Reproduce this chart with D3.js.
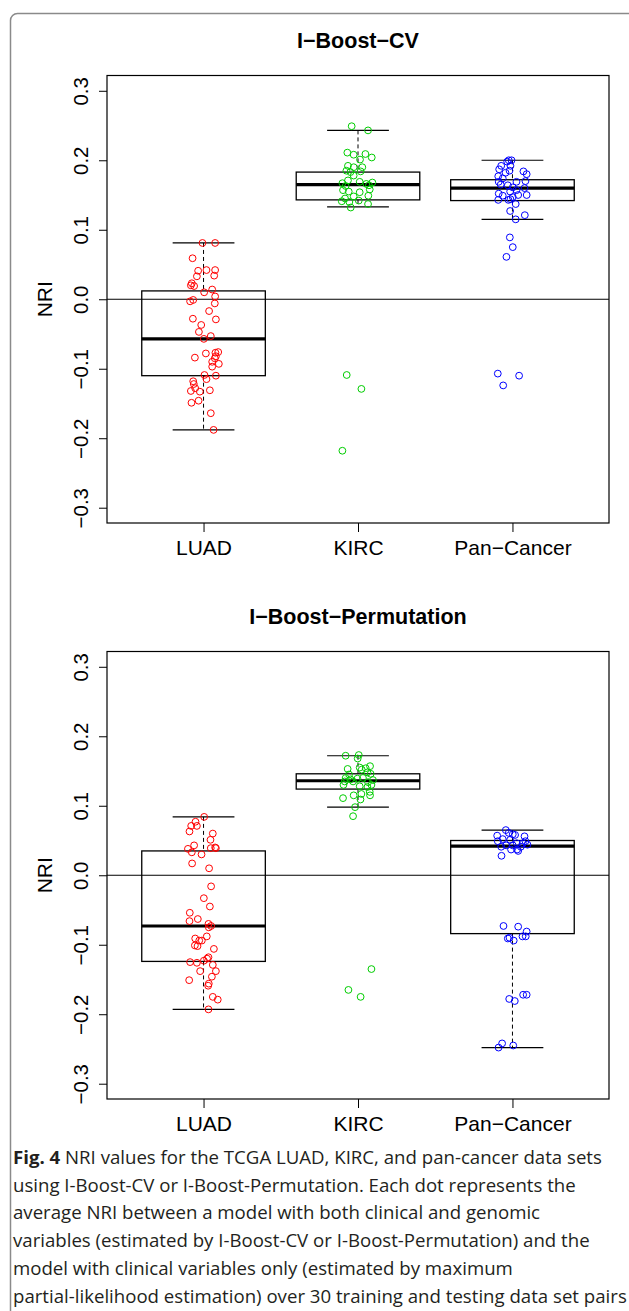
<!DOCTYPE html>
<html lang="en">
  <head>
    <meta charset="utf-8" />
    <title>NRI boxplots</title>
    <style>
      body { margin: 0; background: #fff; }
      .axis text { font-family: "Liberation Sans", Arial, sans-serif; font-size: 20.5px; fill: #000; }
      .axis line, .axis path { stroke: #000; }
      .caption { font-family: "Open Sans", sans-serif; fill: #231f20; }
    </style>
  </head>
  <body>
    <div id="vis"></div>
    <script src="https://d3js.org/d3.v7.min.js"></script>
    <script>
      const groups = ["LUAD", "KIRC", "Pan\u2212Cancer"];
      const colors = ["#ff0000", "#00cd00", "#0000ff"];
      const yTicks = [-0.3, -0.2, -0.1, 0, 0.1, 0.2, 0.3];
      const titles = ["I\u2212Boost\u2212CV", "I\u2212Boost\u2212Permutation"];

      // [jitter, NRI]
      const cvLuad = [[-0.007,0.081],[0.075,0.081],[-0.071,0.059],[-0.035,0.041],[0.019,0.042],[0.075,0.042],[0.069,0.034],[-0.043,0.033],[-0.076,0.023],[-0.082,0.020],[-0.061,0.019],[0.056,0.014],[0.004,0.010],[0.075,0.004],[-0.067,-0.001],[-0.087,-0.003],[0.073,-0.006],[0.036,-0.017],[-0.069,-0.028],[0.080,-0.029],[-0.015,-0.037],[-0.030,-0.047],[0.047,-0.053],[0.002,-0.057],[0.015,-0.078],[0.095,-0.076],[0.077,-0.077],[0.080,-0.082],[-0.056,-0.084],[0.073,-0.085],[0.056,-0.090],[0.099,-0.093],[0.056,-0.097],[0.006,-0.109],[0.080,-0.110],[0.019,-0.115],[-0.067,-0.118],[-0.063,-0.122],[-0.054,-0.128],[-0.082,-0.132],[-0.024,-0.133],[0.041,-0.131],[-0.032,-0.146],[-0.078,-0.149],[0.047,-0.164],[0.065,-0.188]];
      const cvKirc = [[-0.041,0.249],[0.065,0.243],[-0.069,0.211],[-0.028,0.208],[0.048,0.209],[0.089,0.204],[0.013,0.201],[-0.065,0.192],[-0.028,0.190],[0.028,0.190],[-0.075,0.185],[-0.049,0.183],[0.017,0.184],[-0.028,0.178],[-0.065,0.171],[0.011,0.169],[-0.101,0.167],[0.054,0.166],[0.093,0.168],[0.071,0.164],[-0.080,0.163],[-0.097,0.157],[0.076,0.158],[-0.060,0.155],[0.011,0.154],[0.067,0.149],[-0.028,0.148],[-0.084,0.145],[-0.105,0.141],[0.005,0.142],[-0.056,0.140],[0.065,0.137],[-0.047,0.132],[-0.073,-0.109],[0.022,-0.129],[-0.101,-0.218]];
      const cvPan = [[-0.024,0.200],[-0.006,0.200],[-0.034,0.198],[-0.073,0.192],[-0.013,0.192],[-0.086,0.187],[0.071,0.184],[0.092,0.180],[-0.045,0.182],[-0.019,0.185],[-0.092,0.177],[-0.063,0.174],[0.084,0.170],[-0.089,0.169],[0.026,0.169],[-0.076,0.165],[-0.030,0.164],[0.002,0.161],[0.078,0.160],[0.026,0.157],[-0.015,0.155],[-0.089,0.152],[0.092,0.150],[0.037,0.150],[-0.063,0.149],[0.002,0.147],[-0.092,0.143],[-0.026,0.143],[-0.013,0.144],[0.021,0.137],[-0.015,0.127],[0.080,0.121],[0.021,0.115],[-0.017,0.089],[0.002,0.075],[-0.039,0.061],[-0.095,-0.107],[0.043,-0.110],[-0.060,-0.124]];
      const permLuad = [[0.004,0.084],[-0.052,0.077],[-0.080,0.071],[-0.043,0.071],[-0.091,0.063],[0.060,0.060],[0.045,0.051],[-0.061,0.043],[-0.101,0.038],[0.047,0.039],[0.075,0.040],[0.080,0.039],[-0.076,0.033],[-0.013,0.030],[-0.074,0.017],[0.036,0.010],[0.049,-0.016],[0.002,-0.033],[0.041,-0.045],[-0.089,-0.054],[-0.091,-0.066],[-0.037,-0.063],[0.032,-0.070],[0.049,-0.073],[0.034,-0.075],[0.021,-0.088],[-0.054,-0.091],[-0.028,-0.094],[-0.011,-0.094],[-0.056,-0.101],[-0.039,-0.102],[0.067,-0.106],[0.032,-0.118],[0.023,-0.120],[0.002,-0.123],[-0.087,-0.125],[-0.043,-0.126],[0.060,-0.129],[-0.022,-0.138],[0.080,-0.138],[0.054,-0.146],[-0.093,-0.151],[0.034,-0.156],[0.030,-0.159],[0.060,-0.175],[0.092,-0.179],[0.032,-0.193]];
      const permKirc = [[-0.080,0.172],[0.005,0.173],[-0.002,0.168],[-0.067,0.153],[0.011,0.155],[0.050,0.154],[0.078,0.157],[0.024,0.152],[0.061,0.148],[0.082,0.146],[-0.058,0.145],[-0.080,0.140],[-0.049,0.138],[-0.004,0.139],[0.032,0.140],[0.097,0.137],[-0.086,0.135],[-0.032,0.135],[0.065,0.134],[-0.094,0.130],[0.087,0.130],[0.011,0.128],[0.061,0.127],[0.076,0.120],[-0.028,0.115],[0.022,0.117],[0.016,0.109],[-0.097,0.111],[0.078,0.115],[-0.019,0.098],[-0.032,0.085],[0.087,-0.135],[-0.062,-0.165],[0.017,-0.175]];
      const permPan = [[-0.043,0.065],[-0.024,0.061],[0.002,0.059],[0.017,0.058],[-0.099,0.057],[0.078,0.056],[-0.063,0.052],[-0.015,0.051],[-0.095,0.049],[0.084,0.049],[0.028,0.046],[0.067,0.046],[0.097,0.044],[-0.041,0.043],[0.002,0.043],[0.054,0.041],[-0.073,0.041],[0.030,0.037],[-0.009,0.037],[-0.071,0.028],[0.037,0.035],[-0.058,-0.073],[0.037,-0.074],[0.092,-0.081],[0.065,-0.088],[0.086,-0.088],[-0.030,-0.091],[-0.019,-0.090],[0.008,-0.094],[-0.021,-0.178],[0.015,-0.181],[0.069,-0.172],[0.092,-0.172],[-0.067,-0.242],[0.005,-0.245],[-0.090,-0.248]];

      // [lower whisker, Q1, median, Q3, upper whisker]
      const cvBox = [[-0.188,-0.110,-0.057,0.012,0.081],[0.133,0.143,0.165,0.183,0.243],[0.115,0.142,0.160,0.172,0.200]];
      const permBox = [[-0.193,-0.124,-0.073,0.035,0.084],[0.098,0.124,0.136,0.146,0.172],[-0.248,-0.084,0.042,0.050,0.065]];

      const captionLines = [
        ["Fig. 4", " NRI values for the TCGA LUAD, KIRC, and pan-cancer data sets"],
        ["", "using I-Boost-CV or I-Boost-Permutation. Each dot represents the"],
        ["", "average NRI between a model with both clinical and genomic"],
        ["", "variables (estimated by I-Boost-CV or I-Boost-Permutation) and the"],
        ["", "model with clinical variables only (estimated by maximum"],
        ["", "partial-likelihood estimation) over 30 training and testing data set pairs"]
      ];

      const W = 629, H = 1311;
      const svg = d3.select("#vis").append("svg").attr("width", W).attr("height", H);

      svg.append("rect")
        .attr("x", 10.5).attr("y", 13.5).attr("width", 700).attr("height", 1400).attr("rx", 7)
        .attr("fill", "none").attr("stroke", "#8a8a8a").attr("stroke-width", 1.5);

      const left = 107, right = 609;
      const x = d3.scaleLinear().domain([0.375, 3.625]).range([left, right]);

      function panel(top, title, boxes, sets) {
        const bottom = top + 447.5;
        const y = d3.scaleLinear().domain([-0.322, 0.322]).range([bottom, top]);
        const g = svg.append("g");

        g.append("text")
          .attr("x", x(2)).attr("y", top - 28)
          .attr("text-anchor", "middle")
          .style("font-family", "Liberation Sans, Arial, sans-serif")
          .style("font-size", "21.5px").style("font-weight", "bold")
          .text(title);

        // boxes
        const bx = g.selectAll(".box").data(boxes).enter().append("g");
        bx.append("line")
          .attr("x1", (d, i) => x(i + 1)).attr("x2", (d, i) => x(i + 1))
          .attr("y1", d => y(d[4])).attr("y2", d => y(d[3]))
          .attr("stroke", "#000").attr("stroke-dasharray", "4,3");
        bx.append("line")
          .attr("x1", (d, i) => x(i + 1)).attr("x2", (d, i) => x(i + 1))
          .attr("y1", d => y(d[1])).attr("y2", d => y(d[0]))
          .attr("stroke", "#000").attr("stroke-dasharray", "4,3");
        [0, 4].forEach(k => {
          bx.append("line")
            .attr("x1", (d, i) => x(i + 0.8)).attr("x2", (d, i) => x(i + 1.2))
            .attr("y1", d => y(d[k])).attr("y2", d => y(d[k]))
            .attr("stroke", "#000").attr("stroke-width", 1.2);
        });
        bx.append("rect")
          .attr("x", (d, i) => x(i + 0.6)).attr("width", x(1.4) - x(0.6))
          .attr("y", d => y(d[3])).attr("height", d => y(d[1]) - y(d[3]))
          .attr("fill", "#fff").attr("stroke", "#000").attr("stroke-width", 1.3);
        bx.append("line")
          .attr("x1", (d, i) => x(i + 0.6)).attr("x2", (d, i) => x(i + 1.4))
          .attr("y1", d => y(d[2])).attr("y2", d => y(d[2]))
          .attr("stroke", "#000").attr("stroke-width", 3.2);

        g.append("line")
          .attr("x1", left).attr("x2", right).attr("y1", y(0)).attr("y2", y(0))
          .attr("stroke", "#000").attr("stroke-width", 1);

        sets.forEach((pts, i) => {
          g.selectAll(null).data(pts).enter().append("circle")
            .attr("cx", d => x(i + 1 + d[0])).attr("cy", d => y(d[1]))
            .attr("r", 3.4).attr("fill", "none")
            .attr("stroke", colors[i]).attr("stroke-width", 1);
        });

        g.append("rect")
          .attr("x", left).attr("y", top).attr("width", right - left).attr("height", bottom - top)
          .attr("fill", "none").attr("stroke", "#000").attr("stroke-width", 1.2);

        const ya = g.append("g").attr("class", "axis").attr("transform", `translate(${left},0)`)
          .call(d3.axisLeft(y).tickValues(yTicks).tickSize(8).tickSizeOuter(0).tickFormat(d3.format(".1f")));
        ya.select(".domain").remove();
        ya.selectAll("text")
          .attr("transform", "rotate(-90)")
          .attr("x", 0).attr("y", -19).attr("dy", 0)
          .attr("text-anchor", "middle");

        const xa = g.append("g").attr("class", "axis").attr("transform", `translate(0,${bottom})`)
          .call(d3.axisBottom(x).tickValues([1, 2, 3]).tickSize(9).tickPadding(8).tickFormat(d => groups[d - 1]));
        xa.select(".domain").remove();
        xa.selectAll("text").style("font-size", "21px");

        g.append("text")
          .attr("transform", `translate(52,${y(0)}) rotate(-90)`)
          .attr("text-anchor", "middle")
          .style("font-family", "Liberation Sans, Arial, sans-serif")
          .style("font-size", "21px")
          .text("NRI");
      }

      panel(75.5, titles[0], cvBox, [cvLuad, cvKirc, cvPan]);
      panel(651.5, titles[1], permBox, [permLuad, permKirc, permPan]);

      // caption
      const cap = svg.append("g").attr("class", "caption");
      const lines = cap.selectAll("text").data(captionLines).enter().append("text")
        .attr("x", 13).attr("y", (d, i) => 1164 + i * 27.7)
        .style("font-size", "17px");
      lines.append("tspan").style("font-weight", "bold").text(d => d[0]);
      lines.append("tspan").text(d => d[1]);
      const last = lines.filter((d, i) => i === captionLines.length - 1).node();
      const fs = 17 * 614 / last.getComputedTextLength();
      lines.style("font-size", fs + "px");
    </script>
  </body>
</html>
